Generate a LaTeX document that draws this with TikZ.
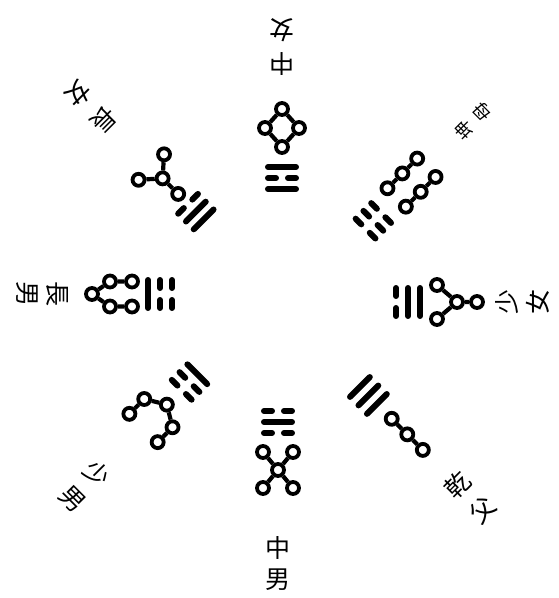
\documentclass[tikz,border=0pt]{standalone}
\usepackage{fontspec}
\newfontfamily\cjk{Noto Sans CJK TC}

% --- ESTILOS ---
\tikzset{
  yao/.style={line width=6pt, line cap=round},
  punto/.style={circle, draw, line width=3.8pt, minimum size=12pt, inner sep=0pt},
  enlace/.style={line width=4.2pt},
  letra/.style={font=\cjk\fontsize{25}{25}\selectfont, inner sep=0pt},
  letrap/.style={font=\cjk\fontsize{18}{18}\selectfont, inner sep=0pt},
}
% Lineas del trigrama (yang entera, yin partida)
\newcommand{\yangyao}[1]{\draw[yao] (-14,#1) -- (14,#1);}
\newcommand{\yinyao}[1]{\draw[yao] (-14,#1) -- (-6,#1) (6,#1) -- (14,#1);}

\begin{document}
\begin{tikzpicture}[x=1pt, y=1pt]
    \useasboundingbox (-280,-298) rectangle (278,300);

    % --- KAN (abajo) ---
    \begin{scope}[rotate=0, xshift=-2, transform shape]
      \yinyao{-111} \yangyao{-122} \yinyao{-133}
      \node[punto] (kan1) at (-15,-152) {};
      \node[punto] (kan2) at (15,-152) {};
      \node[punto] (kan3) at (0,-170) {};
      \node[punto] (kan4) at (-15,-188) {};
      \node[punto] (kan5) at (15,-188) {};
      \draw[enlace] (kan3) -- (kan1) (kan3) -- (kan2) (kan3) -- (kan4) (kan3) -- (kan5);
      \node[letra] (kanA) at (0,-248) {中};
      \node[letra] (kanB) at (0,-280) {男};
    \end{scope}

    % --- LI (arriba) ---
    \begin{scope}[rotate=180, xshift=-2, transform shape]
      \yangyao{-111} \yinyao{-122} \yangyao{-133}
      \node[punto] (li1) at (0,-153) {};
      \node[punto] (li2) at (-17,-172) {};
      \node[punto] (li3) at (17,-172) {};
      \node[punto] (li4) at (0,-191) {};
      \draw[enlace] (li1) -- (li2) (li2) -- (li4) (li4) -- (li3) (li3) -- (li1);
      \node[letra] (liA) at (0,-236) {中};
      \node[letra] (liB) at (0,-270) {女};
    \end{scope}

    % --- DUI (derecha) ---
    \begin{scope}[rotate=90, xshift=-2, transform shape]
      \yinyao{-116} \yangyao{-128} \yangyao{-140}
      \node[punto] (dui1) at (-17,-157) {};
      \node[punto] (dui2) at (17,-157) {};
      \node[punto] (dui3) at (0,-177) {};
      \node[punto] (dui4) at (0,-197) {};
      \draw[enlace] (dui1) -- (dui3) (dui2) -- (dui3) (dui3) -- (dui4);
      \node[letra] (duiA) at (0,-227) {少};
      \node[letra] (duiB) at (0,-258) {女};
    \end{scope}

    % --- ZHEN (izquierda) ---
    \begin{scope}[rotate=-90, xshift=-6, transform shape]
      \yinyao{-108} \yinyao{-120} \yangyao{-132}
      \node[punto] (zhen1) at (-12.5,-148) {};
      \node[punto] (zhen2) at (-12.5,-170) {};
      \node[punto] (zhen3) at (0,-188) {};
      \node[punto] (zhen4) at (12.5,-170) {};
      \node[punto] (zhen5) at (12.5,-148) {};
      \draw[enlace] (zhen1) -- (zhen2) (zhen2) -- (zhen3) (zhen3) -- (zhen4) (zhen4) -- (zhen5);
      \node[letra] (zhenA) at (0,-223) {長};
      \node[letra] (zhenB) at (0,-253) {男};
    \end{scope}

    % --- QIAN (abajo a la derecha) ---
    \begin{scope}[rotate=45, xshift=-5, transform shape]
      \yangyao{-118} \yangyao{-130} \yangyao{-142}
      \node[punto] (qian1) at (0,-163) {};
      \node[punto] (qian2) at (0,-185) {};
      \node[punto] (qian3) at (0,-207) {};
      \draw[enlace] (qian1) -- (qian2) (qian2) -- (qian3);
      \node[letra] (qianA) at (0,-256) {乾};
      \node[letra] (qianB) at (0,-292) {父};
    \end{scope}

    % --- KUN (arriba a la derecha) ---
    \begin{scope}[rotate=135, xshift=-10, transform shape]
      \yinyao{-111} \yinyao{-122} \yinyao{-133}
      \node[punto] (kun1) at (-13,-155) {};
      \node[punto] (kun2) at (-13,-176) {};
      \node[punto] (kun3) at (-13,-197) {};
      \node[punto] (kun4) at (13,-155) {};
      \node[punto] (kun5) at (13,-176) {};
      \node[punto] (kun6) at (13,-197) {};
      \draw[enlace] (kun1) -- (kun2) (kun2) -- (kun3) (kun4) -- (kun5) (kun5) -- (kun6);
      \node[letrap] (kunA) at (0,-250) {坤};
      \node[letrap] (kunB) at (0,-276) {母};
    \end{scope}

    % --- GEN (abajo a la izquierda) ---
    \begin{scope}[rotate=-45, xshift=-6, transform shape]
      \yangyao{-111} \yinyao{-122} \yinyao{-133}
      \node[punto] (gen1) at (-20,-187) {};
      \node[punto] (gen2) at (-20,-166) {};
      \node[punto] (gen3) at (0,-154) {};
      \node[punto] (gen4) at (20,-166) {};
      \node[punto] (gen5) at (20,-187) {};
      \draw[enlace] (gen1) -- (gen2) (gen2) -- (gen3) (gen3) -- (gen4) (gen4) -- (gen5);
      \node[letra] (genA) at (0,-252) {少};
      \node[letra] (genB) at (0,-288) {男};
    \end{scope}

    % --- XUN (arriba a la izquierda) ---
    \begin{scope}[rotate=-135, xshift=-3, transform shape]
      \yangyao{-111} \yangyao{-122} \yinyao{-133}
      \node[punto] (xun1) at (0,-147) {};
      \node[punto] (xun2) at (0,-169) {};
      \node[punto] (xun3) at (-18,-185) {};
      \node[punto] (xun4) at (18,-185) {};
      \draw[enlace] (xun1) -- (xun2) (xun2) -- (xun3) (xun2) -- (xun4);
      \node[letra] (xunA) at (0,-252) {長};
      \node[letra] (xunB) at (0,-288) {女};
    \end{scope}

\end{tikzpicture}
\end{document}
